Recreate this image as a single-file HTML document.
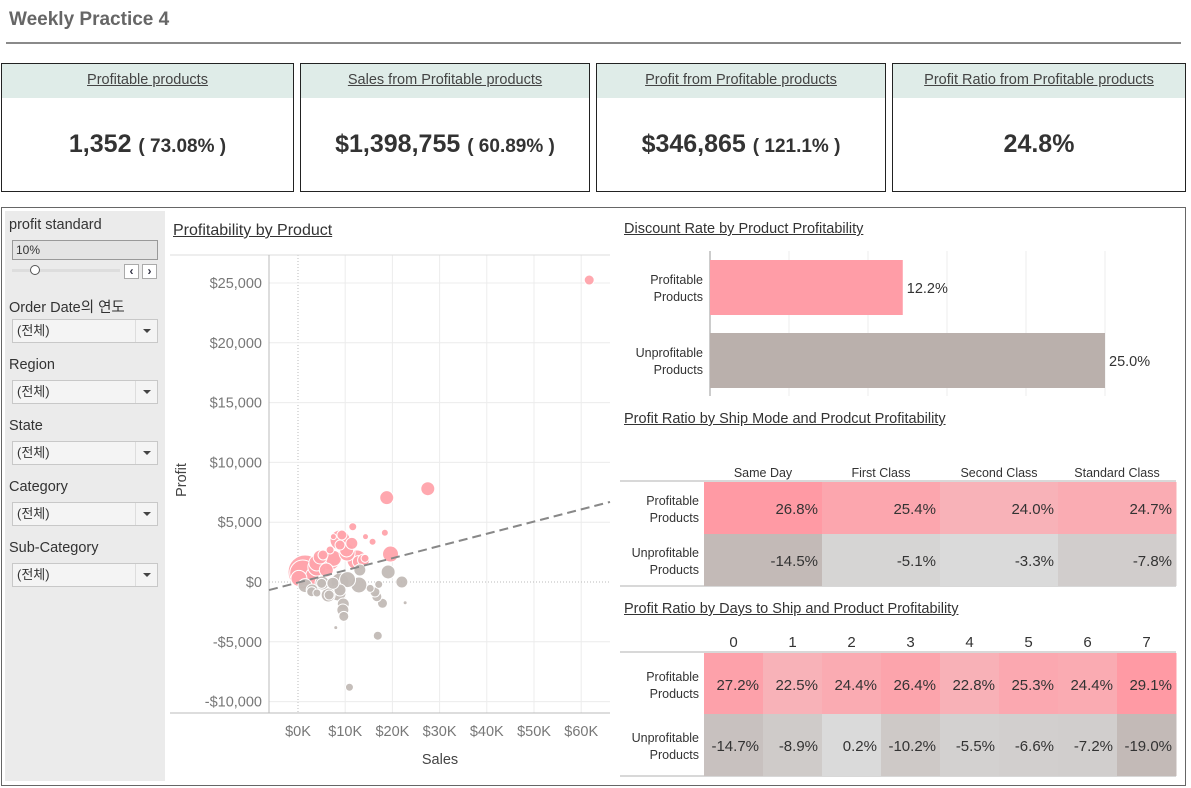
<!DOCTYPE html>
<html><head><meta charset="utf-8">
<style>
*{box-sizing:border-box;margin:0;padding:0}
body{width:1191px;height:788px;background:#fff;position:relative;overflow:hidden;font-family:"Liberation Sans","Noto Sans CJK KR",sans-serif;color:#333}
.abs{position:absolute}
.kpi{position:absolute;top:63px;height:129px;border:1.5px solid #222;background:#fff}
.kpi .hd{position:absolute;left:0;right:0;top:0;height:34px;background:#dfece8;text-align:center;line-height:32px;font-size:14.5px;color:#444;text-decoration:underline}
.kpi .val{position:absolute;left:0;right:0;top:66px;text-align:center;font-size:25px;font-weight:bold;color:#333}
.kpi .val small{font-size:19px;font-weight:600}
.flab{position:absolute;left:9px;font-size:14.5px;color:#333}
.dd{position:absolute;left:12px;width:146px;height:24px;border:1px solid #c8c8c8;background:#f4f4f4;font-size:13px;line-height:22px;padding-left:4px;color:#333}
.dd:after{content:"";position:absolute;right:0;top:0;width:21px;height:22px;border-left:1px solid #ddd}
.dd i{position:absolute;right:6px;top:9px;width:0;height:0;border-left:4px solid transparent;border-right:4px solid transparent;border-top:4px solid #444}
.ttl{position:absolute;font-size:14.5px;color:#333;text-decoration:underline}
</style></head><body>
<div class="abs" style="left:9px;top:9px;font-size:19px;font-weight:bold;color:#666">Weekly Practice 4</div>
<div class="abs" style="left:6px;top:42px;width:1175px;height:2px;background:#8a8a8a"></div>

<div class="kpi" style="left:1px;width:293px"><div class="hd">Profitable products</div><div class="val">1,352 <small>( 73.08% )</small></div></div>
<div class="kpi" style="left:300px;width:290px"><div class="hd">Sales from Profitable products</div><div class="val">$1,398,755 <small>( 60.89% )</small></div></div>
<div class="kpi" style="left:596px;width:290px"><div class="hd">Profit from Profitable products</div><div class="val">$346,865 <small>( 121.1% )</small></div></div>
<div class="kpi" style="left:892px;width:294px"><div class="hd">Profit Ratio from Profitable products</div><div class="val">24.8%</div></div>

<div class="abs" style="left:1px;top:207px;width:1185px;height:579px;border:1.5px solid #666"></div>
<div class="abs" style="left:5px;top:211px;width:160px;height:570px;background:#ebebeb"></div>
<div class="flab" style="top:217px">profit standard</div>
<div class="abs" style="left:12px;top:240px;width:146px;height:20px;border:1px solid #999;background:#e4e4e4;font-size:12px;line-height:18px;padding-left:3px">10%</div>
<div class="abs" style="left:12px;top:269px;width:108px;height:3px;background:#ddd"></div>
<div class="abs" style="left:30px;top:265px;width:10px;height:10px;border:1px solid #555;border-radius:50%;background:#fff"></div>
<div class="abs" style="left:124px;top:264px;width:15px;height:15px;border:1px solid #aaa;background:#fff;font-size:12px;line-height:13px;text-align:center;font-weight:bold;color:#334">&lsaquo;</div>
<div class="abs" style="left:142px;top:264px;width:15px;height:15px;border:1px solid #aaa;background:#fff;font-size:12px;line-height:13px;text-align:center;font-weight:bold;color:#334">&rsaquo;</div>
<div class="flab" style="top:296px">Order Date의 연도</div>
<div class="dd" style="top:319px">(전체)<i></i></div>
<div class="flab" style="top:357px">Region</div>
<div class="dd" style="top:380px">(전체)<i></i></div>
<div class="flab" style="top:418px">State</div>
<div class="dd" style="top:441px">(전체)<i></i></div>
<div class="flab" style="top:479px">Category</div>
<div class="dd" style="top:502px">(전체)<i></i></div>
<div class="flab" style="top:540px">Sub-Category</div>
<div class="dd" style="top:563px">(전체)<i></i></div>

<div class="ttl" style="left:173px;top:222px;font-size:16px">Profitability by Product</div>
<svg class="abs" id="scatter" style="left:0;top:0" width="1191" height="788"></svg>

<div class="ttl" style="left:624px;top:221px">Discount Rate by Product Profitability</div>
<div class="ttl" style="left:624px;top:411px">Profit Ratio by Ship Mode and Prodcut Profitability</div>
<div class="ttl" style="left:624px;top:601px">Profit Ratio by Days to Ship and Product Profitability</div>

<script>
// Scatter data
const sales   = [61.7,27.5,18.8,11.6,18.4,14.3,15.8,19.6,11.4,9.3,7.5,7.5,12.8,14.2,1.5,1.0,5.3,8.9,10.3,4.0,6.8,0.2,3.5,6.0,
                 8.9,12.5,6.8,4.0,4.7,10.4,13.9,
                 19.1,22.0,12.9,9.6,9.7,17.9,16.7,17.1,15.3,16.9,10.9,8.0,22.7,2.9,6.6,5.0,8.9,13.1,7.4,4.0,10.5,1.5,
                 8.5,6.4,3.0,5.1,9.5,8.9,16.3];
const profit  = [25250,7800,7050,4620,4120,3790,3370,2340,3230,3930,3790,1980,1700,1980,840,750,2260,3090,2680,1590,2680,300,500,1000,
                 3510,1840,1840,1250,2090,2420,1840,
                 840,0,-250,-1840,-2870,-1780,-1230,-200,-530,-4490,-8800,-3820,-1730,-810,-1090,-110,-670,1000,-100,-920,200,-300,
                 -920,-1090,-670,-80,-2340,0,-840];
const bubble  = [5,7,7,4,3.5,3,3.5,8,6,5,3,8,6,4,17,13,5,5,7,8,4,8,9,7,
                 10,10,10,9,7,8,6,
                 7,6,8,6,5,5,5,4,4,4.5,4,2,2,5,5,5,6,6,6,4,8,7,
                 8,7,6,7,6,9,5];
const isProf  = [1,1,1,1,1,1,1,1,1,1,1,1,1,1,1,1,1,1,1,1,1,1,1,1,
                 1,1,1,1,1,1,1,
                 0,0,0,0,0,0,0,0,0,0,0,0,0,0,0,0,0,0,0,0,0,0,
                 0,0,0,0,0,0,0];
const xTicks  = [0,10,20,30,40,50,60];
const xTickLabels = ["$0K","$10K","$20K","$30K","$40K","$50K","$60K"];
const yTicks  = [25000,20000,15000,10000,5000,0,-5000,-10000];
const yTickLabels = ["$25,000","$20,000","$15,000","$10,000","$5,000","$0","-$5,000","-$10,000"];
const trendSlope = 102, trendIntercept = -48;

// Discount bars
const discCats = ["Profitable|Products","Unprofitable|Products"];
const discVals = [12.2,25.0];
// Ship mode table
const shipCols = ["Same Day","First Class","Second Class","Standard Class"];
const shipProf = [26.8,25.4,24.0,24.7];
const shipUnprof = [-14.5,-5.1,-3.3,-7.8];
// Days table
const dayCols = ["0","1","2","3","4","5","6","7"];
const dayProf = [27.2,22.5,24.4,26.4,22.8,25.3,24.4,29.1];
const dayUnprof = [-14.7,-8.9,0.2,-10.2,-5.5,-6.6,-7.2,-19.0];

const NS="http://www.w3.org/2000/svg";
const svg=document.getElementById('scatter');
function mk(tag,attrs,parent){const e=document.createElementNS(NS,tag);for(const k in attrs)e.setAttribute(k,attrs[k]);(parent||svg).appendChild(e);return e;}
const X=v=>298+v*4.72, Y=v=>582-v*0.01196;
const L=269,R=610,T=255,B=713;
xTicks.forEach((t,i)=>{
  const g=mk('line',{x1:X(t),x2:X(t),y1:T,y2:B,stroke:t===0?'#bbb':'#ececec','stroke-dasharray':t===0?'1,2':'none'});
  
  
  const tx=mk('text',{x:X(t),y:736,'text-anchor':'middle','font-size':14.5,fill:'#777'});
  tx.textContent=xTickLabels[i];
  
  
});
yTicks.forEach((t,i)=>{
  const g=mk('line',{x1:L,x2:R,y1:Y(t),y2:Y(t),stroke:t===0?'#bbb':'#ececec','stroke-dasharray':t===0?'1,2':'none'});
  
  
  const tx=mk('text',{x:262,y:Y(t)+5,'text-anchor':'end','font-size':14.5,fill:'#777'});
  tx.textContent=yTickLabels[i];
  
  
});
const top1=mk('line',{x1:170,x2:R,y1:T,y2:T,stroke:'#ddd'});


const ya=mk('line',{x1:L,x2:L,y1:T,y2:B,stroke:'#bbb'});


const xa=mk('line',{x1:170,x2:R,y1:B,y2:B,stroke:'#bbb'});


const xt=mk('text',{x:440,y:764,'text-anchor':'middle','font-size':14.5,fill:'#444'});xt.textContent='Sales';


const yt=mk('text',{x:186,y:480,'text-anchor':'middle','font-size':14.5,fill:'#444',transform:'rotate(-90 186 480)'});yt.textContent='Profit';


const order=sales.map((_,i)=>i).sort((a,b)=>bubble[b]-bubble[a]);
order.forEach(i=>{
  const c=mk('circle',{cx:X(sales[i]),cy:Y(profit[i]),r:bubble[i],fill:isProf[i]?'#ffa3ab':'#c2bab6',stroke:'#fff','stroke-width':1,'fill-opacity':0.95});
  
  
});
const sx0=(L-298)/4.72, sx1=(R-298)/4.72;
const tl=mk('line',{x1:L,y1:Y(trendSlope*sx0+trendIntercept),x2:R,y2:Y(trendSlope*sx1+trendIntercept),stroke:'#888','stroke-width':2,'stroke-dasharray':'9,5'});



// Discount bars
const DX=v=>710+v*15.8;
[5,10,15,20,25].forEach(v=>{
  const g=mk('line',{x1:DX(v),x2:DX(v),y1:251,y2:396,stroke:'#eee'});
  
  
});
const da=mk('line',{x1:710,x2:710,y1:251,y2:396,stroke:'#ccc','stroke-width':2});


discVals.forEach((v,i)=>{
  const y0=260+i*73;
  const b=mk('rect',{x:710,y:y0,width:DX(v)-710,height:55,fill:i===0?'#ff9da7':'#bab0ac'});
  
  
  const t=mk('text',{x:DX(v)+4,y:y0+33,'font-size':14.5,fill:'#333'});t.textContent=v.toFixed(1)+'%';
  
  
  const parts=discCats[i].split('|');
  parts.forEach((p,j)=>{const c=mk('text',{x:703,y:y0+24+j*17,'text-anchor':'end','font-size':12.5,fill:'#333'});c.textContent=p;
    
    });
});

// Tables
function profColor(v,lo,hi){const t=Math.max(0,Math.min(1,(v-lo)/(hi-lo)));const a=[248,178,184],b=[255,154,164];return 'rgb('+a.map((x,k)=>Math.round(x+(b[k]-x)*t)).join(',')+')';}
function unColor(v,lo,hi){const t=Math.max(0,Math.min(1,(v-hi)/(lo-hi)));const a=[218,218,218],b=[195,186,183];return 'rgb('+a.map((x,k)=>Math.round(x+(b[k]-x)*t)).join(',')+')';}
function table(cols,pv,uv,hy,ly,r1,r2,rh,fs,name){
  const cw=(1176-704)/cols.length;
  const hl=mk('line',{x1:620,x2:1176,y1:ly,y2:ly,stroke:'#ccc','stroke-width':1.5});
  
  
  const bl=mk('line',{x1:620,x2:1176,y1:r2+rh,y2:r2+rh,stroke:'#ccc','stroke-width':1.5});
  
  
  const pmin=Math.min(...pv),pmax=Math.max(...pv),umin=Math.min(...uv),umax=Math.max(...uv);
  cols.forEach((c,i)=>{
    const h=mk('text',{x:704+cw*i+cw/2,y:hy,'text-anchor':'middle','font-size':fs,fill:'#333'});h.textContent=c;
    
    
    [[pv,r1,profColor(pv[i],pmin,pmax)],[uv,r2,unColor(uv[i],umin,umax)]].forEach(([arr,y,col],k)=>{
      const r=mk('rect',{x:704+cw*i,y:y,width:cw+0.5,height:rh,fill:col});
      
      
      const t=mk('text',{x:704+cw*(i+1)-4,y:y+rh/2+6,'text-anchor':'end','font-size':15,fill:'#333'});t.textContent=arr[i].toFixed(1)+'%';
      
      
    });
  });
  [['Profitable',r1],['Unprofitable',r2]].forEach(([lab,y])=>{
    const a=mk('text',{x:699,y:y+rh/2-3,'text-anchor':'end','font-size':12.5,fill:'#333'});a.textContent=lab;
    
    
    const b=mk('text',{x:699,y:y+rh/2+14,'text-anchor':'end','font-size':12.5,fill:'#333'});b.textContent='Products';
    
    
  });
}
table(shipCols,shipProf,shipUnprof,477,481,482,534,52,12.5,'shipmode');
table(dayCols,dayProf,dayUnprof,647,652,653,714,62,15,'days');
</script>
</body></html>
